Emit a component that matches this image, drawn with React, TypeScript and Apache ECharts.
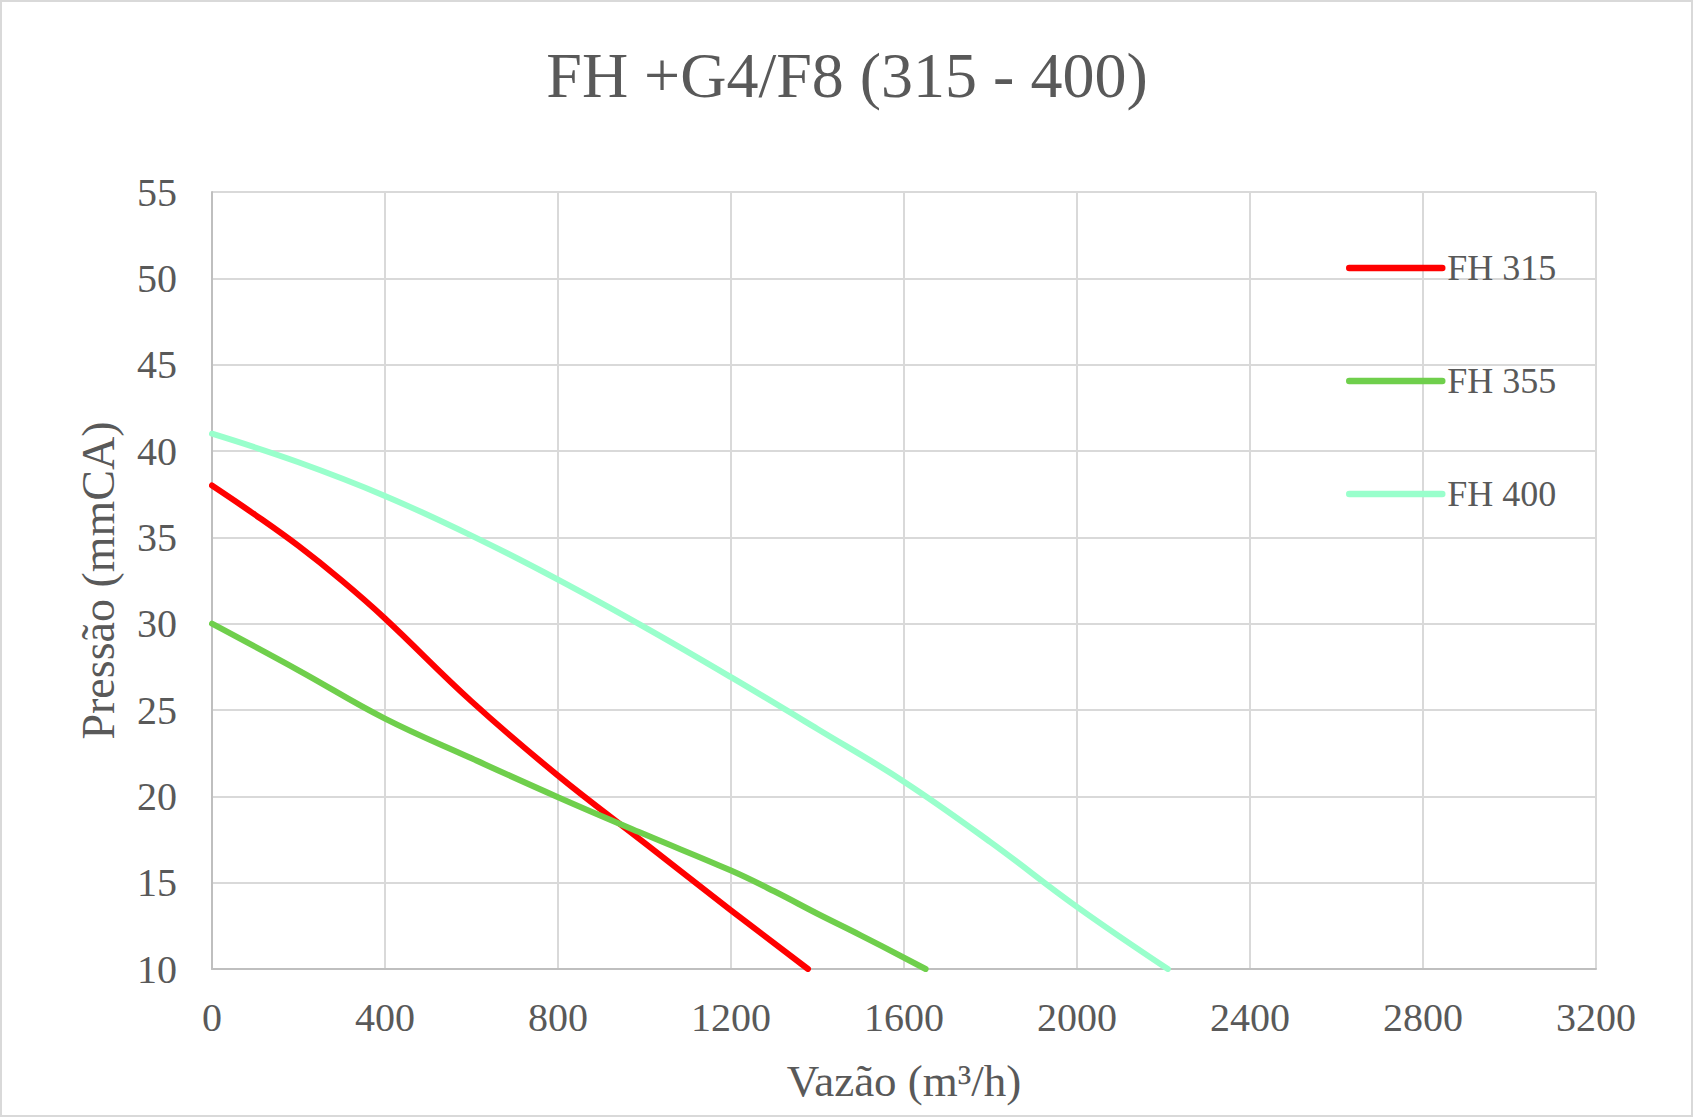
import React, { useEffect, useRef } from "react";
import * as echarts from "echarts";

const chartTitle = "FH +G4/F8 (315 - 400)";
const xAxisName = "Vazão (m³/h)";
const yAxisName = "Pressão (mmCA)";

const seriesNames = ["FH 315", "FH 355", "FH 400"];
const seriesColors = ["#FF0000", "#6FCF4C", "#99FFCC"];

const flowFH315 = [0, 100, 200, 300, 400, 600, 800, 1000, 1200, 1378];
const pressFH315 = [38, 36.3, 34.5, 32.5, 30.3, 25.5, 21.2, 17.3, 13.4, 10];

const flowFH355 = [0, 200, 400, 600, 800, 1000, 1200, 1300, 1400, 1500, 1650];
const pressFH355 = [30, 27.3, 24.5, 22.2, 19.95, 17.8, 15.7, 14.5, 13.2, 11.95, 10];

const flowFH400 = [0, 200, 400, 600, 800, 1000, 1200, 1400, 1600, 1800, 2000, 2210];
const pressFH400 = [41, 39.35, 37.4, 35.1, 32.55, 29.8, 26.9, 23.9, 20.85, 17.35, 13.6, 10];

const xMin = 0;
const xMax = 3200;
const xStep = 400;
const yMin = 10;
const yMax = 55;
const yStep = 5;

const FONT = "'Liberation Serif', 'Times New Roman', serif";
const TEXT = "#595959";

function zip(xs: number[], ys: number[]) {
  return xs.map((x, i) => [x, ys[i]]);
}

export default function App() {
  const ref = useRef<HTMLDivElement>(null);

  useEffect(() => {
    document.body.style.margin = "0";
    const chart = echarts.init(ref.current!, undefined, { renderer: "svg" });
    const flows = [flowFH315, flowFH355, flowFH400];
    const presses = [pressFH315, pressFH355, pressFH400];

    const option: any = {
      animation: false,
      backgroundColor: "#ffffff",
      title: {
        text: chartTitle,
        left: "center",
        top: 38,
        textStyle: {
          fontFamily: FONT,
          fontSize: 64,
          fontWeight: "normal",
          color: TEXT,
        },
      },
      legend: {
        orient: "vertical",
        left: 1341,
        top: 245,
        itemWidth: 93,
        itemHeight: 36,
        itemGap: 77,
        data: seriesNames,
        itemStyle: { opacity: 0 },
        lineStyle: { width: 6.5, cap: "round" },
        textStyle: {
          fontFamily: FONT,
          fontSize: 36,
          color: TEXT,
        },
      },
      grid: {
        left: 212,
        right: 98,
        top: 192,
        bottom: 149,
      },
      xAxis: {
        type: "value",
        min: xMin,
        max: xMax,
        interval: xStep,
        name: xAxisName,
        nameLocation: "middle",
        nameGap: 89,
        nameTextStyle: { fontFamily: FONT, fontSize: 45, color: TEXT },
        axisLine: { show: true, lineStyle: { color: "#bfbfbf", width: 2 } },
        axisTick: { show: false },
        axisLabel: {
          fontFamily: FONT,
          fontSize: 40,
          color: TEXT,
          margin: 28,
          formatter: (v: number) => String(v),
        },
        splitLine: { show: true, lineStyle: { color: "#d9d9d9", width: 2 } },
      },
      yAxis: {
        type: "value",
        min: yMin,
        max: yMax,
        interval: yStep,
        name: yAxisName,
        nameLocation: "middle",
        nameGap: 91,
        nameTextStyle: { fontFamily: FONT, fontSize: 46, color: TEXT },
        axisLine: { show: true, lineStyle: { color: "#bfbfbf", width: 2 } },
        axisTick: { show: false },
        axisLabel: {
          fontFamily: FONT,
          fontSize: 40,
          color: TEXT,
          margin: 35,
          formatter: (v: number) => String(v),
        },
        splitLine: { show: true, lineStyle: { color: "#d9d9d9", width: 2 } },
      },
      graphic: [
        {
          type: "rect",
          shape: { x: 1, y: 1, width: 1691, height: 1115 },
          style: { fill: "none", stroke: "#d9d9d9", lineWidth: 2 },
          silent: true,
        },
      ],
      series: seriesNames.map((name, i) => ({
        name,
        type: "line",
        data: zip(flows[i], presses[i]),
        showSymbol: false,
        symbol: "none",
        smooth: 0.4,
        color: seriesColors[i],
        lineStyle: {
          color: seriesColors[i],
          width: 6,
          cap: "round",
          join: "round",
        },
      })),
    };

    chart.setOption(option);
    return () => chart.dispose();
  }, []);

  return <div ref={ref} style={{ width: 1694, height: 1118 }} />;
}
